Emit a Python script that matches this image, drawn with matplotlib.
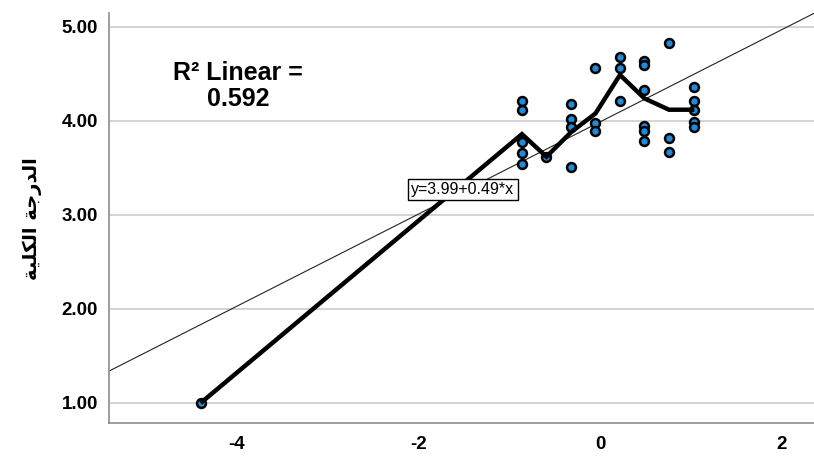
"""Scatter with fit line and mean interpolation line (SPSS style)."""

from __future__ import annotations

import matplotlib

matplotlib.use("Agg")
import matplotlib.pyplot as plt


# point values, grouped by x column
POINT_X = [
    -4.40,
    -0.86, -0.86, -0.86, -0.86, -0.86,
    -0.59,
    -0.32, -0.32, -0.32, -0.32,
    -0.05, -0.05, -0.05,
    0.22, 0.22, 0.22,
    0.49, 0.49, 0.49, 0.49, 0.49, 0.49,
    0.76, 0.76, 0.76,
    1.04, 1.04, 1.04, 1.04, 1.04,
]
POINT_Y = [
    1.00,
    4.21, 4.12, 3.78, 3.66, 3.54,
    3.62,
    4.18, 4.02, 3.94, 3.51,
    4.56, 3.98, 3.89,
    4.68, 4.56, 4.21,
    4.64, 4.60, 4.33, 3.95, 3.89, 3.79,
    4.83, 3.82, 3.67,
    4.36, 4.21, 4.12, 3.99, 3.94,
]

# interpolation line through column means
LINE_X = [-4.40, -0.86, -0.59, -0.32, -0.05, 0.22, 0.49, 0.76, 1.04]
LINE_Y = [1.00, 3.86, 3.62, 3.88, 4.08, 4.49, 4.24, 4.12, 4.12]

FIT_INTERCEPT = 3.99
FIT_SLOPE = 0.49
R_SQUARED = 0.592

X_TICKS = [-4, -2, 0, 2]
Y_TICKS = [1.0, 2.0, 3.0, 4.0, 5.0]

# "الدرجة الكلية" in presentation forms, visual order (no shaping in matplotlib)
Y_LABEL = "\ufe94\ufef4\ufee0\ufedc\ufedf\ufe8d \ufe94\ufe9f\ufead\ufeaa\ufedf\ufe8d"

MARKER_BLUE = "#1e8cdc"
GRID_GRAY = "#cccccc"
SPINE_GRAY = "#8c8c8c"


def main() -> None:
    plt.rcParams["axes.unicode_minus"] = False
    fig = plt.figure(figsize=(8.14, 4.59), dpi=100)
    ax = fig.add_axes([0.1339, 0.0778, 0.8661, 0.8939])

    ax.set_xlim(-5.41, 2.358)
    ax.set_ylim(0.784, 5.149)

    for y in Y_TICKS:
        ax.axhline(y, color=GRID_GRAY, linewidth=1.2, zorder=1)

    ax.axline((0, FIT_INTERCEPT), slope=FIT_SLOPE, color="#222222", linewidth=0.8, zorder=2)

    ax.plot(
        POINT_X, POINT_Y, linestyle="none", marker="o", markersize=6.4,
        markerfacecolor=MARKER_BLUE, markeredgecolor="black", markeredgewidth=1.8, zorder=3,
    )
    ax.plot(
        LINE_X, LINE_Y, color="black", linewidth=3.2,
        solid_capstyle="butt", solid_joinstyle="miter", zorder=4,
    )

    ax.text(
        -3.99, 4.37, f"R\u00b2 Linear =\n{R_SQUARED:.3f}", ha="center", va="center",
        fontsize=18, fontweight="bold", family="Liberation Sans", linespacing=1.1,
    )
    ax.text(
        -1.51, 3.27, f"y={FIT_INTERCEPT:.2f}+{FIT_SLOPE:.2f}*x", ha="center", va="center",
        fontsize=11.5, family="Liberation Sans", zorder=5,
        bbox=dict(boxstyle="square,pad=0.2", facecolor="white", edgecolor="black", linewidth=1),
    )

    ax.set_xticks(X_TICKS)
    ax.set_xticklabels([str(t) for t in X_TICKS])
    ax.set_yticks(Y_TICKS)
    ax.set_yticklabels([f"{t:.2f}" for t in Y_TICKS])
    ax.tick_params(length=0, labelsize=13.5, pad=8)
    ax.tick_params(axis="x", pad=9)
    for label in ax.get_xticklabels() + ax.get_yticklabels():
        label.set_fontweight("bold")
        label.set_family("Liberation Sans")

    ax.set_ylabel(Y_LABEL, fontsize=14, fontweight="bold", family="DejaVu Sans", labelpad=14)

    for side in ("top", "right"):
        ax.spines[side].set_visible(False)
    for side in ("left", "bottom"):
        ax.spines[side].set_color(SPINE_GRAY)
        ax.spines[side].set_linewidth(1.2)

    fig.savefig("out.png", dpi=100)
    plt.close(fig)


if __name__ == "__main__":
    main()
